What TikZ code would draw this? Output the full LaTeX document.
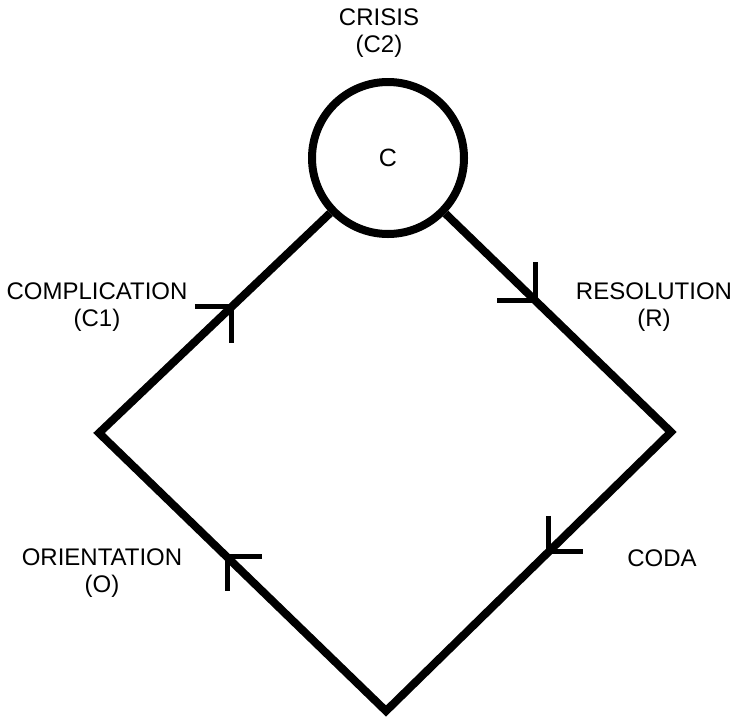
\documentclass[tikz,border=0pt]{standalone}
\usepackage{fontspec}
\setmainfont{Liberation Sans}
\usetikzlibrary{calc}
\begin{document}
\begin{tikzpicture}[x=1pt,y=-1pt,
  edge/.style={line width=8pt, line join=miter},
  barb/.style={line width=5pt, line join=miter},
  lbl/.style={font=\fontsize{24}{27}\selectfont, align=center, inner sep=0pt}]
\useasboundingbox (0,0) rectangle (733,718);
\node[circle, draw, line width=8pt, minimum size=152pt, inner sep=0pt, font=\fontsize{25}{27}\selectfont] (C) at (388,158) {C};
\coordinate (L) at (99,433);
\coordinate (B) at (386,711);
\coordinate (R) at (671,432);
\draw[edge] (C) -- (L) -- (B) -- (R) -- (C);
% direction marks
\coordinate (m1) at ($(L)!0.46!(C.center)$);
\coordinate (m2) at ($(C.center)!0.52!(R)$);
\coordinate (m3) at ($(R)!0.43!(B)$);
\coordinate (m4) at ($(B)!0.554!(L)$);
\draw[barb] ($(m1)+(-37,0)$) -- (m1) -- ++(0,36);
\draw[barb] ($(m2)+(-38,0)$) -- (m2) -- ++(0,-38);
\draw[barb] ($(m3)+(0,-36)$) -- (m3) -- ++(35,0);
\draw[barb] ($(m4)+(35,0)$) -- (m4) -- ++(0,34);
% labels
\node[lbl] (crisis) at (379,33) {CRISIS\\(C2)};
\node[lbl] (comp) at (97,307) {COMPLICATION\\(C1)};
\node[lbl] (res) at (654,307) {RESOLUTION\\(R)};
\node[lbl] (ori) at (102,573) {ORIENTATION\\(O)};
\node[lbl] (coda) at (662,558) {CODA};
\end{tikzpicture}
\end{document}
